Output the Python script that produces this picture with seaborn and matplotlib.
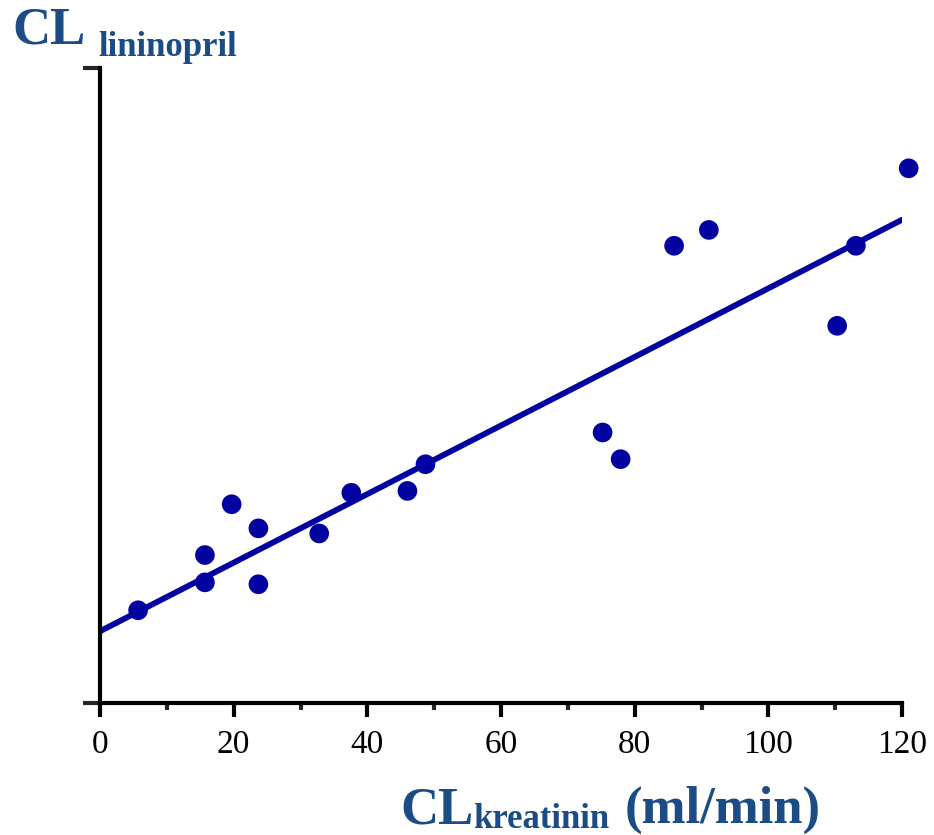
import matplotlib
matplotlib.use("Agg")
import matplotlib.pyplot as plt
import seaborn as sns
import pandas as pd
from matplotlib.ticker import MultipleLocator

# Data (y in arbitrary units 0-100)
cl_kreatinin = [5.7, 15.7, 15.7, 19.7, 23.7, 23.7, 32.8, 37.6, 46.0, 48.7,
                75.2, 77.9, 85.9, 91.1, 110.3, 113.1, 121.0]
cl_lisinopril = [14.6, 23.3, 19.0, 31.3, 27.5, 18.7, 26.7, 33.1, 33.4, 37.6,
                 42.6, 38.4, 72.0, 74.5, 59.4, 72.0, 84.2]
fit_x = [0, 120]
fit_y = [11.3, 76.1]
x_ticks = [0, 20, 40, 60, 80, 100, 120]

sns.set_theme(style="ticks")
plt.rcParams['font.family'] = ['Liberation Serif', 'DejaVu Serif']

W, H = 934, 835
fig = plt.figure(figsize=(W / 100, H / 100), dpi=100)
ax = fig.add_axes([100 / W, 1 - 703 / H, (902 - 100) / W, (703 - 68) / H])

point_color = "#0202a0"
title_color = "#1c4c86"

df = pd.DataFrame({"x": cl_kreatinin, "y": cl_lisinopril})
fit = pd.DataFrame({"x": fit_x, "y": fit_y})

sns.lineplot(data=fit, x="x", y="y", ax=ax, color=point_color, linewidth=4.2,
             solid_capstyle="round", zorder=2)
sns.scatterplot(data=df, x="x", y="y", ax=ax, color=point_color, s=200,
                edgecolor="none", zorder=3, clip_on=False)

ax.set_xlim(0, 120)
ax.set_ylim(0, 100)
ax.set_xticks(x_ticks)
ax.set_xticklabels([str(t) for t in x_ticks])
ax.xaxis.set_minor_locator(MultipleLocator(10))
ax.set_yticks([0, 100])
ax.set_yticklabels([])
ax.set_xlabel("")
ax.set_ylabel("")

for s in ["top", "right"]:
    ax.spines[s].set_visible(False)
for s in ["left", "bottom"]:
    ax.spines[s].set_linewidth(3.0)
    ax.spines[s].set_color("black")
    ax.spines[s].set_capstyle("projecting")

ax.tick_params(axis="x", which="major", length=10, width=3.0, direction="out",
               labelsize=24, pad=9, colors="black")
ax.tick_params(axis="x", which="minor", length=5, width=3.0, direction="out")
ax.tick_params(axis="y", which="major", length=12, width=3.0, direction="out")
for lbl in ax.get_xticklabels():
    lbl.set_color("black")

def ftext(px, py, s, size, **kw):
    fig.text(px / W, 1 - py / H, s, fontsize=size, fontweight="bold",
             color=title_color, va="baseline", ha="left", **kw)

# y-axis title
ftext(12, 44, "CL", 38)
ftext(98, 56, "lininopril", 25)
# x-axis title
ftext(400, 824, "CL", 38)
ftext(473, 828, "kreatinin", 25)
ftext(625, 823, "(ml/min)", 38)

fig.savefig("out.png", dpi=100)
